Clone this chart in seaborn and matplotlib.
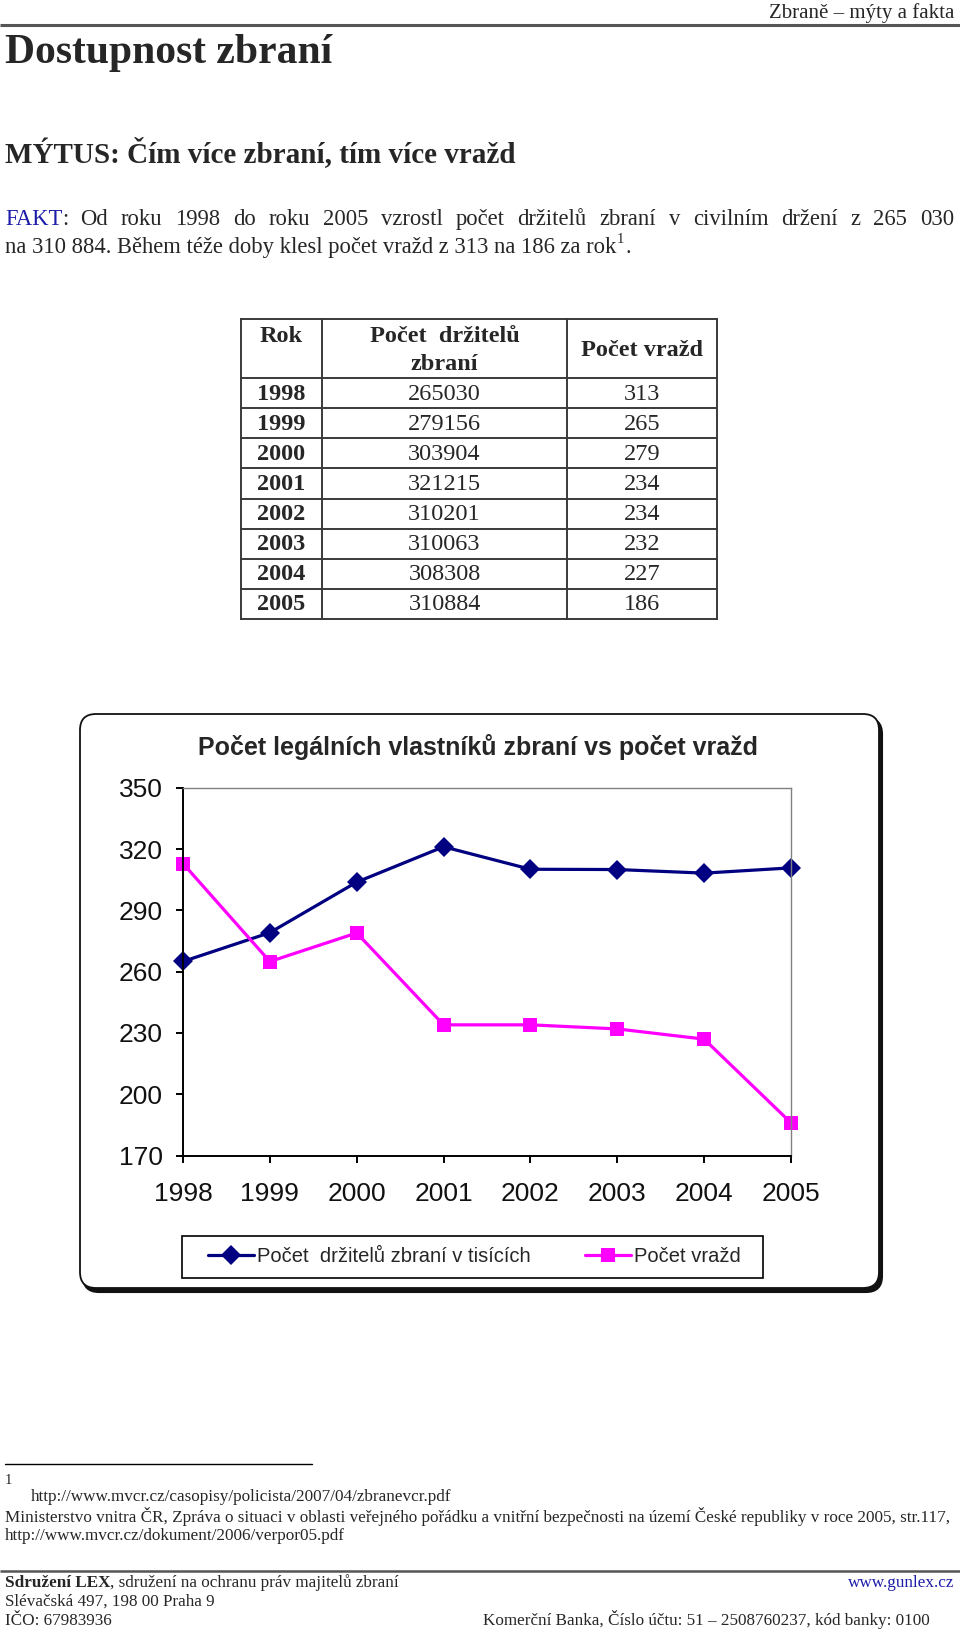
import numpy as np
import pandas as pd
import matplotlib
matplotlib.use("Agg")
import matplotlib.pyplot as plt
import seaborn as sns
from matplotlib.patches import FancyBboxPatch, Rectangle

# ---------------- data ----------------
years = [1998, 1999, 2000, 2001, 2002, 2003, 2004, 2005]
holders = [265030, 279156, 303904, 321215, 310201, 310063, 308308, 310884]
murders = [313, 265, 279, 234, 234, 232, 227, 186]
y_ticks = [170, 200, 230, 260, 290, 320, 350]
series_holders = "Počet  držitelů zbraní v tisících"
series_murders = "Počet vražd"
chart_title = "Počet legálních vlastníků zbraní vs počet vražd"
table_header = ["Rok", "Počet  držitelů", "zbraní", "Počet vražd"]

# ---------------- setup ----------------
sns.set_theme(style="white")
plt.rcParams["font.family"] = ["Liberation Serif", "DejaVu Serif"]
SANS = ["Liberation Sans Narrow", "Liberation Sans", "DejaVu Sans"]

W, H = 960, 1632
fig = plt.figure(figsize=(9.6, 16.32), dpi=100)
fig.patch.set_facecolor("white")
page = fig.add_axes([0, 0, 1, 1])
page.set_xlim(0, W)
page.set_ylim(H, 0)
page.axis("off")
renderer = fig.canvas.get_renderer()

BLUE_TXT = "#1c1ca8"


def text_width(s, **kw):
    t = page.text(0, 0, s, **kw)
    w = t.get_window_extent(renderer).width
    t.remove()
    return w


# header
page.text(954, 13, "Zbraně – mýty a fakta", ha="right", va="center", fontsize=15)
page.plot([0, W], [25, 25], color="#555555", lw=2.2, solid_capstyle="butt")

page.text(5, 53, "Dostupnost zbraní", ha="left", va="center", fontsize=30, fontweight="bold")
page.text(5, 153, "MÝTUS: Čím více zbraní, tím více vražd", ha="left", va="center",
          fontsize=21, fontweight="bold")

# FAKT paragraph (first line justified)
PFS = 16.3
line1 = "FAKT: Od roku 1998 do roku 2005 vzrostl počet držitelů zbraní v civilním držení z 265 030"
words = line1.split(" ")
widths = [text_width(w_, fontsize=PFS) for w_ in words]
x_left, x_right = 5, 954
gap = (x_right - x_left - sum(widths)) / (len(words) - 1)
x = x_left
base1 = 225
for i, (wd, wdt) in enumerate(zip(words, widths)):
    if i == 0:
        page.text(x, base1, "FAKT", color=BLUE_TXT, fontsize=PFS, va="baseline", ha="left")
        page.text(x + text_width("FAKT", fontsize=PFS), base1, ":", fontsize=PFS,
                  va="baseline", ha="left")
    else:
        page.text(x, base1, wd, fontsize=PFS, va="baseline", ha="left")
    x += wdt + gap

t3 = page.text(5, 253, "na 310 884. Během téže doby klesl počet vražd z 313 na 186 za rok",
               fontsize=PFS, va="baseline", ha="left")
page.annotate("1", xy=(1, 0.55), xycoords=t3, va="bottom", ha="left", fontsize=10.5)
page.annotate(".", xy=(1, 0), xycoords=t3, xytext=(6.5, 0), textcoords="offset points",
              va="bottom", ha="left", fontsize=PFS)

# table
tx = [241, 322, 567, 717]
ty = [319, 378] + [378 + 30.125 * i for i in range(1, 9)]
tcol = "#3a3a3a"
for xx in tx:
    page.plot([xx, xx], [ty[0], ty[-1]], color=tcol, lw=1.4, solid_capstyle="projecting")
for yy in ty:
    page.plot([tx[0], tx[-1]], [yy, yy], color=tcol, lw=1.4, solid_capstyle="projecting")
cx = [(tx[0] + tx[1]) / 2, (tx[1] + tx[2]) / 2, (tx[2] + tx[3]) / 2]
TFS = 17.5
page.text(cx[0], 336, table_header[0], ha="center", va="center", fontsize=TFS, fontweight="bold")
page.text(cx[1], 336, table_header[1], ha="center", va="center", fontsize=TFS, fontweight="bold")
page.text(cx[1], 365, table_header[2], ha="center", va="center", fontsize=TFS, fontweight="bold")
page.text(cx[2], 350, table_header[3], ha="center", va="center", fontsize=TFS, fontweight="bold")
for i, (yr, h, m) in enumerate(zip(years, holders, murders)):
    yc = (ty[i + 1] + ty[i + 2]) / 2 + 1
    page.text(cx[0], yc, str(yr), ha="center", va="center", fontsize=TFS, fontweight="bold")
    page.text(cx[1], yc, str(h), ha="center", va="center", fontsize=TFS)
    page.text(cx[2], yc, str(m), ha="center", va="center", fontsize=TFS)

# chart frame (rounded, with shadow)
bx0, by0, bx1, by1 = 80, 714, 879, 1288
shadow = FancyBboxPatch((bx0 + 3, by0 + 4), bx1 - bx0, by1 - by0,
                        boxstyle="round,pad=0,rounding_size=16",
                        fc="#111111", ec="#111111", lw=1.5, zorder=1)
frame = FancyBboxPatch((bx0, by0), bx1 - bx0, by1 - by0,
                       boxstyle="round,pad=0,rounding_size=16",
                       fc="white", ec="#111111", lw=1.3, zorder=2)
page.add_patch(shadow)
page.add_patch(frame)
page.text(478, 747, chart_title, ha="center", va="center", fontsize=18,
          fontweight="bold", family=SANS, zorder=3)
# legend box
page.add_patch(Rectangle((182, 1236), 581, 42, fc="white", ec="black", lw=1.2, zorder=3))

# ---------------- chart ----------------
ax_l, ax_r, ax_t, ax_b = 183, 791, 788, 1155.5
ax = fig.add_axes([ax_l / W, 1 - ax_b / H, (ax_r - ax_l) / W, (ax_b - ax_t) / H])
ax.set_facecolor("white")

df = pd.DataFrame({
    "Rok": years + years,
    "value": [h / 1000 for h in holders] + murders,
    "series": [series_holders] * len(years) + [series_murders] * len(years),
})
sns.lineplot(data=df, x="Rok", y="value", hue="series", style="series",
             hue_order=[series_holders, series_murders],
             style_order=[series_holders, series_murders],
             palette={series_holders: "#000080", series_murders: "#FF00FF"},
             markers={series_holders: "D", series_murders: "s"}, dashes=False,
             linewidth=2.3, markersize=10, markeredgewidth=0, errorbar=None,
             ax=ax, legend=False)
for ln in ax.lines:
    ln.set_clip_on(False)
ax.lines[0].set_markersize(10.5)

ax.set_xlim(years[0], years[-1])
ax.set_ylim(y_ticks[0], y_ticks[-1])
ax.set_xticks(years)
ax.set_yticks(y_ticks)
ax.set_xlabel("")
ax.set_ylabel("")
ax.grid(False)
for s in ["left", "bottom"]:
    ax.spines[s].set_color("black")
    ax.spines[s].set_linewidth(1.4)
for s in ["top", "right"]:
    ax.spines[s].set_color("#808080")
    ax.spines[s].set_linewidth(1.0)
ax.tick_params(axis="y", left=True, direction="out", length=5, width=1.4, pad=9.5, colors="black")
ax.tick_params(axis="x", bottom=True, direction="out", length=5, width=1.4, pad=14, colors="black")
for lab in ax.get_xticklabels() + ax.get_yticklabels():
    lab.set_fontfamily(SANS)
    lab.set_fontsize(19)
    lab.set_color("#111111")

handles = ax.lines[:2]
leg = ax.legend(handles, [series_holders, series_murders], loc="center",
                bbox_to_anchor=(208 / W, 1 - 1278 / H, 533 / W, 42 / H),
                bbox_transform=fig.transFigure, mode="expand", ncol=2,
                frameon=False, prop={"family": SANS, "size": 14.5}, handlelength=2.3,
                handletextpad=0.15, borderaxespad=0, borderpad=0)
leg.set_zorder(5)

# ---------------- footnotes ----------------
FS = 12.3
page.plot([5, 312], [1464, 1464], color="black", lw=1.0)
page.text(5, 1481, "1", fontsize=10.5, va="center", ha="left")
page.text(31, 1497, "http://www.mvcr.cz/casopisy/policista/2007/04/zbranevcr.pdf",
          fontsize=FS, va="center", ha="left")
page.text(5, 1517, "Ministerstvo vnitra ČR, Zpráva o situaci v oblasti veřejného pořádku a vnitřní "
          "bezpečnosti na území České republiky v roce 2005, str.117,",
          fontsize=FS, va="center", ha="left")
page.text(5, 1536, "http://www.mvcr.cz/dokument/2006/verpor05.pdf", fontsize=FS, va="center", ha="left")

# footer
page.plot([0, W], [1571, 1571], color="#555555", lw=1.8, solid_capstyle="butt")
f1 = page.text(5, 1587, "Sdružení LEX", fontsize=FS, fontweight="bold", va="baseline", ha="left")
page.annotate(", sdružení na ochranu práv majitelů zbraní", xy=(1, 0), xycoords=f1,
              va="bottom", ha="left", fontsize=FS)
page.text(954, 1587, "www.gunlex.cz", color=BLUE_TXT, fontsize=FS, va="baseline", ha="right")
page.text(5, 1606, "Slévačská 497, 198 00 Praha 9", fontsize=FS, va="baseline", ha="left")
page.text(5, 1625, "IČO: 67983936", fontsize=FS, va="baseline", ha="left")
page.text(930, 1625, "Komerční Banka, Číslo účtu: 51 – 2508760237, kód banky: 0100",
          fontsize=FS, va="baseline", ha="right")

fig.savefig("out.png", dpi=100, facecolor="white")
